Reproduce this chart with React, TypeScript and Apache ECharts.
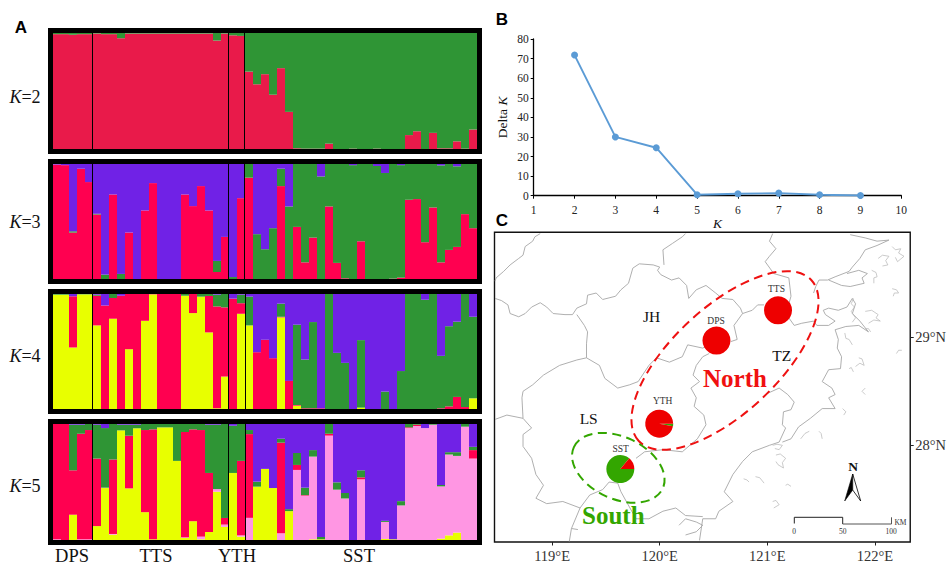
import React, { useEffect, useRef } from "react";
import * as echarts from "echarts";

// ---- Structure plots: cumulative tops (%) of the stacked clusters per individual ----
const individuals = Array.from({ length: 53 }, (_, i) => String(i + 1));
const populations = ["DPS", "TTS", "YTH", "SST"];

const k2RedTop = [99,99,98.5,99,99, 99.5,99,99,95.5,99.5,99.5,99.5,99.5,99.5,99.5,99.5,99.5,99.5,99.5,99.5,93.5,99.5, 98,97.5,
  66.7,55.8,64.5,46.8,69.7,32,0.6,0.3,0.3,0.3,4.6,0,0,0.3,0,0,0.3,0,0,0,12,15.3,0,13.9,0.6,0.6,6.6,0.3,16.8];

const k3RedTop = [99.5,99,40.4,95.9,84.3, 56.1,0,73.5,0,40.4,0,59.6,83.4,0,0,0,73.5,63.4,80.8,59.6,6.1,36.6, 0,70.3,
  88.1,0,0,0,80.8,0,45.3,14.5,36,0,63.1,14,0.6,0,32.8,0,0,0,0.3,1.2,68.9,69.5,32,62.2,14.5,25.3,27.9,56.4,44.2];
const k3GreenTop = [99.5,99,41.5,95.9,84.3, 56.7,3.8,73.5,4.4,40.4,0,59.6,83.4,0,0,0,73.5,63.4,80.8,59.6,15.7,36.6, 1.7,70.3,
  100,39,25.9,44.2,95.9,63.1,100,100,100,89.2,100,100,100,99,100,100,98.3,92.2,100,99,100,100,100,100,98.8,100,98,100,100];

const k4YellowTop = [99.4,99.4,53.5,99.7,99.7, 72.7,0,78.5,0,52,0,76.7,99.7,0,0,0,98.5,83.4,97.7,66.6,0.6,28.2, 0,82.8,
  72.7,0,0,0,79.7,0,2.9,0,0,0,0,0,0,0,1.2,0,0,0,0,0,0,0,0,0,0,0,0,0,9.3];
const k4RedTop = [99.4,99.4,98,99.7,99.7, 98.5,90,96.5,98.5,100,100,100,100,100,100,100,98.5,100,97.7,98.3,89.2,88.4, 96,92,
  72.7,49.4,60.2,44.2,80.2,24.4,3.5,0.6,0.6,0.6,0,0,0,0,1.2,0,0,0,0,0,0,0,0,0,0.6,2.3,10.5,1.7,9.3];
const k4GreenTop = [100,100,98,100,100, 99.4,90,100,98.5,100,100,100,100,100,100,100,100,100,100,100,99.4,100, 96,99.4,
  97.7,49.4,60.2,44.2,91.6,24.4,73.3,43,75.6,0.6,100,48.8,40.1,0,59.9,0,0,15.1,0,33,100,100,95,100,46.2,72,75.9,100,80.2];

const k5YellowTop = [0,0,21.8,0,0, 12,44.8,4.6,94.5,44.5,96.3,24,0.6,97.1,97.1,68.2,1.7,16.2,0.6,6.9,41.6,11.3, 57.8,2.9,
  0,46,61.3,44.8,0,24.9,0,0,0.6,0.6,0,0,0,0,0,0,0,0.9,0.6,0,0,0,0,0,1.2,4,6.4,0,0];
const k5PinkTop = [0.6,0,21.8,0.6,0.6, 12,45.1,5.2,94.5,44.5,96.3,24,0.6,97.1,97.1,68.2,2.3,16.2,2.9,6.9,43.9,13.3, 57.8,4,
  19.1,46,61.3,44.8,5.8,24.9,60.4,38.2,71.9,0.6,90,43.4,35.8,0,52.3,0,0,15.6,0.6,29.8,96.5,98.3,96.5,99.4,46.2,73.7,72.5,97.7,70.2];
const k5RedTop = [100,100,60.1,91.6,94.8, 70.2,45.1,69.4,94.5,89.9,96.3,94.8,95.4,97.1,97.1,68.2,93.1,95.4,94.8,57.8,43.9,19, 57.8,68.2,
  91.3,46,61.3,44.8,83.9,24.9,64.7,38.7,71.9,0.6,91.6,43.4,35.8,0,54,0,0,15.6,0.6,29.8,97.1,99.4,96.5,99.4,46.2,73.7,72.5,97.7,77.5];
const k5GreenTop = [100,100,99.4,99.4,100, 99.4,96.5,100,99.4,99.4,99.4,100,100,100,100,100,100,100,100,99.4,99.4,100, 98.5,100,
  94.8,50.3,61.3,44.8,87.3,26.6,75,45.1,77.5,2.6,100,49.7,40.5,0,60.1,0,0,16.5,0.6,33.5,100,100,96.5,100,47.4,75.7,75.7,100,80.3];

// ---- Delta K ----
const kValues = [2, 3, 4, 5, 6, 7, 8, 9];
const deltaK = [71.8, 30, 24.5, 0.5, 1, 1.3, 0.5, 0.1];

// ---- Map: sampling sites ----
const siteNames = ["TTS", "DPS", "YTH", "SST"];
const siteLon = [121.09, 120.52, 119.99, 119.63];
const siteLat = [29.25, 28.97, 28.2, 27.78];
const siteGreenShare = [0, 0, 3, 86];
const siteRedShare = [100, 100, 97, 14];

// ---- Map: administrative boundaries and coast, [lon, lat] ----
const boundaries: number[][][] = [
  [[118.89,29.96],[118.84,29.93],[118.82,29.89],[118.75,29.84],[118.73,29.76],[118.69,29.73],[118.61,29.67],[118.55,29.61],[118.48,29.55],[118.47,29.52]],
  [[118.47,29.36],[118.53,29.34],[118.59,29.3],[118.61,29.22],[118.69,29.19],[118.75,29.22],[118.81,29.28],[118.89,29.32],[118.95,29.28],[119.01,29.22],[119.12,29.21],[119.19,29.21],[119.23,29.27],[119.32,29.31],[119.33,29.39],[119.41,29.41],[119.47,29.35],[119.59,29.38],[119.64,29.44],[119.71,29.5],[119.75,29.64],[119.81,29.68],[119.94,29.67],[120,29.65],[119.98,29.62],[120.01,29.58],[120.11,29.53],[120.18,29.55],[120.25,29.48],[120.27,29.36],[120.34,29.44],[120.43,29.48],[120.52,29.41],[120.58,29.36],[120.68,29.35],[120.75,29.27],[120.77,29.22],[120.86,29.25],[120.91,29.3],[120.97,29.3]],
  [[121.2,29.18],[121.25,29.11],[121.32,29.13],[121.43,29.15]],
  [[120.04,29.67],[120.03,29.81],[120.12,29.87],[120.21,29.93],[120.24,29.96]],
  [[121.05,29.96],[121.02,29.89],[121.08,29.82],[121.02,29.75],[120.98,29.7],[121.06,29.59],[121.2,29.55],[121.22,29.38],[121.2,29.31]],
  [[119.23,29.21],[119.3,29.11],[119.33,29.05],[119.32,28.94],[119.32,28.81]],
  [[119.32,28.81],[119.23,28.79],[119.07,28.74],[118.92,28.65],[118.82,28.56],[118.73,28.5],[118.72,28.44],[118.73,28.25],[118.81,28.16],[118.73,28.1],[118.73,27.99],[118.81,27.88],[118.85,27.73],[118.92,27.63],[118.85,27.51],[118.95,27.46],[119.1,27.48],[119.26,27.42],[119.35,27.54],[119.47,27.59],[119.53,27.66]],
  [[118.47,28.24],[118.58,28.28],[118.73,28.25]],
  [[119.32,28.81],[119.44,28.74],[119.49,28.62],[119.61,28.53],[119.72,28.56],[119.8,28.59],[119.9,28.74],[119.97,28.81],[120.09,28.77],[120.21,28.82],[120.26,28.93],[120.4,28.9],[120.52,28.96]],
  [[120.66,28.96],[120.72,28.98],[120.69,29.11],[120.77,29.22]],
  [[120.46,28.85],[120.4,28.82],[120.34,28.74],[120.31,28.65],[120.37,28.59],[120.29,28.53],[120.34,28.44],[120.32,28.36],[120.41,28.28],[120.43,28.19],[120.35,28.06],[120.21,27.94],[120.03,27.96],[119.86,27.94],[119.78,27.88]],
  [[119.53,27.66],[119.61,27.65],[119.64,27.57],[119.69,27.48]],
  [[119.69,27.48],[119.78,27.32],[119.9,27.32],[120.03,27.39],[120.15,27.42],[120.24,27.35],[120.4,27.34]],
  [[119.26,27.42],[119.18,27.23],[119.16,27.11]],
  [[119.18,27.23],[119.24,27.22]],
  [[121,28.48],[121.11,28.53],[121.19,28.47]],
];
const coast: number[][][] = [
  [[121.77,29.95],[121.91,29.92],[122.02,29.89],[122.13,29.9],[122.02,29.85],[121.91,29.81],[121.86,29.73],[121.79,29.65],[121.76,29.61],[121.63,29.56],[121.56,29.53],[121.48,29.53],[121.45,29.47],[121.43,29.41]],
  [[121.74,29.59],[121.85,29.62],[121.93,29.59],[121.88,29.55],[121.9,29.5],[121.77,29.47],[121.69,29.48],[121.57,29.53]],
  [[121.43,29.15],[121.46,29.11],[121.57,29.11],[121.63,29.15],[121.54,29.21],[121.52,29.25],[121.57,29.27],[121.66,29.25],[121.74,29.28],[121.79,29.36],[121.82,29.31],[121.79,29.22],[121.86,29.15],[121.94,29.05],[121.85,29.11],[121.73,29.1],[121.63,29.07],[121.66,28.98],[121.65,28.9],[121.69,28.82],[121.68,28.71],[121.57,28.7],[121.51,28.59],[121.6,28.53],[121.63,28.47],[121.57,28.44],[121.63,28.34],[121.51,28.34],[121.4,28.25],[121.29,28.17],[121.22,28.06],[121.14,28.03]],
  [[121.19,28.47],[121.25,28.4],[121.22,28.33],[121.15,28.31],[121.14,28.19],[121.17,28.16],[121.11,28.03],[121.02,28],[120.86,27.94],[120.77,27.85],[120.68,27.73],[120.6,27.57],[120.68,27.48],[120.55,27.39],[120.52,27.32],[120.4,27.32],[120.37,27.12]],
  [[120.18,27.26],[120.24,27.32],[120.34,27.29],[120.4,27.26],[120.34,27.2],[120.24,27.17]],
];
const islands: number[][][] = [
  [[122.16,29.84],[122.19,29.81],[122.24,29.82],[122.22,29.78],[122.27,29.75],[122.21,29.7],[122.19,29.74]],
  [[122.03,29.73],[122.07,29.76],[122.13,29.75],[122.1,29.71],[122.12,29.67],[122.07,29.66]],
  [[122.16,29.45],[122.2,29.44],[122.22,29.41],[122.18,29.41],[122.17,29.38]],
  [[121.97,29.62],[122.01,29.6],[122.02,29.56],[121.99,29.55],[121.99,29.5]],
  [[121.8,29.36],[121.78,29.31],[121.81,29.28],[121.78,29.24],[121.82,29.18],[121.79,29.14]],
  [[121.91,29.24],[121.97,29.25],[122.03,29.21],[122.01,29.18],[122.05,29.15],[121.99,29.16],[121.94,29.13]],
  [[121.91,29.08],[121.94,29.08],[121.96,29.05]],
  [[121.72,29.04],[121.73,28.99],[121.76,28.98],[121.79,28.93]],
  [[121.85,28.81],[121.88,28.8],[121.9,28.74],[121.86,28.76],[121.82,28.73]],
  [[121.76,28.71],[121.78,28.72],[121.8,28.68]],
  [[122.25,28.88],[122.22,28.88],[122.2,28.85]],
  [[121.91,28.53],[121.88,28.5],[121.91,28.47]],
  [[121.7,28.34],[121.73,28.31],[121.71,28.28]],
  [[121.48,28.13],[121.5,28.11],[121.51,28.06]],
  [[121.05,28],[121.09,28.01],[121.14,28],[121.11,27.96],[121.07,27.97]],
  [[121.08,27.91],[121.12,27.92],[121.17,27.88],[121.14,27.84],[121.15,27.79],[121.1,27.82],[121.08,27.85]],
  [[120.78,27.69],[120.81,27.68],[120.83,27.66]],
  [[120.89,27.71],[120.93,27.7],[120.97,27.65]],
  [[121.17,27.63],[121.19,27.64],[121.22,27.62]],
  [[121.05,27.48],[121.08,27.49],[121.11,27.45],[121.06,27.42]],
  [[121.39,28.13],[121.35,28.11],[121.31,28.06]],
];
const lonTicks = [119, 120, 121, 122];
const latTicks = [28, 29];

// ---- Colours ----
const RED2 = "#E91A4A";
const RED = "#FF0050";
const GREEN = "#2F9535";
const PURPLE = "#7022E6";
const YELLOW = "#E8FF00";
const PINK = "#FF96E3";
const SERIF = "'Liberation Serif', serif";

function stackFromTops(tops: number[][]): number[][] {
  const out: number[][] = [];
  const running = individuals.map(() => 0);
  tops.forEach((t) => {
    out.push(t.map((v, i) => {
      const s = Math.max(0, v - running[i]);
      running[i] = Math.max(running[i], v);
      return +s.toFixed(2);
    }));
  });
  out.push(running.map((v) => +(100 - v).toFixed(2)));
  return out;
}

const panels = [
  { label: "2", top: 33, bottom: 149, tops: [k2RedTop], colors: [RED2, GREEN], labelY: 96.6 },
  { label: "3", top: 164, bottom: 279, tops: [k3RedTop, k3GreenTop], colors: [RED, GREEN, PURPLE], labelY: 221.7 },
  { label: "4", top: 294, bottom: 409, tops: [k4YellowTop, k4RedTop, k4GreenTop], colors: [YELLOW, RED, GREEN, PURPLE], labelY: 355.7 },
  { label: "5", top: 424, bottom: 540, tops: [k5YellowTop, k5PinkTop, k5RedTop, k5GreenTop], colors: [YELLOW, PINK, RED, GREEN, PURPLE], labelY: 485.7 },
];

const lonPx = (lon: number) => 552.3 + (lon - 119) * 108;
const latPx = (lat: number) => 445.3 - (lat - 28) * 108;

function buildOption() {
  const grid: any[] = [];
  const xAxis: any[] = [];
  const yAxis: any[] = [];
  const series: any[] = [];
  const graphic: any[] = [];
  const text = (x: number, y: number, t: string, size: number, extra: any = {}, rich?: any) => ({
    type: "text", x, y, z: 20,
    style: { text: t, fontFamily: SERIF, fontSize: size, fill: "#111", align: "center", verticalAlign: "middle", rich, ...extra },
  });

  panels.forEach((p, pi) => {
    grid.push({ left: 53, top: p.top, width: 424, height: p.bottom - p.top });
    xAxis.push({ type: "category", gridIndex: pi, data: individuals, show: false });
    yAxis.push({ type: "value", gridIndex: pi, min: 0, max: 100, show: false });
    stackFromTops(p.tops).forEach((values, si) => {
      series.push({
        type: "bar", xAxisIndex: pi, yAxisIndex: pi, stack: "k" + p.label, data: values,
        barCategoryGap: 0, silent: true,
        itemStyle: { color: p.colors[si] },
      });
    });
    graphic.push({
      type: "rect", z: 15,
      shape: { x: 50.5, y: p.top - 2.5, width: 429, height: p.bottom - p.top + 5 },
      style: { fill: "none", stroke: "#000", lineWidth: 5 },
    });
    [92.5, 228.5, pi >= 2 ? 245.5 : 244.5].forEach((x) => {
      graphic.push({
        type: "line", z: 16,
        shape: { x1: x, y1: p.top, x2: x, y2: p.bottom },
        style: { stroke: "#000", lineWidth: 1 },
      });
    });
    graphic.push(text(25, p.labelY, "{i|K}{n|=" + p.label + "}", 18, {}, {
      i: { fontFamily: SERIF, fontSize: 18, fontStyle: "italic", fill: "#111" },
      n: { fontFamily: SERIF, fontSize: 18, fill: "#111" },
    }));
  });

  // Panel B
  grid.push({ left: 533.7, top: 39, width: 367.6, height: 156.7 });
  xAxis.push({
    type: "value", gridIndex: 4, min: 1, max: 10, interval: 1,
    name: "{k|K}", nameLocation: "middle", nameGap: 17,
    nameTextStyle: { rich: { k: { fontFamily: SERIF, fontStyle: "italic", fontSize: 13.5, color: "#111" } } },
    axisLine: { lineStyle: { color: "#000", width: 1.3 } },
    axisTick: { inside: false, length: 3, lineStyle: { color: "#000", width: 1 } },
    axisLabel: { fontFamily: SERIF, fontSize: 11.5, color: "#222", margin: 8 },
    splitLine: { show: false },
  });
  yAxis.push({
    type: "value", gridIndex: 4, min: 0, max: 80, interval: 10,
    name: "{a|Delta }{k|K}", nameLocation: "middle", nameGap: 24, nameRotate: 90,
    nameTextStyle: { rich: {
      a: { fontFamily: SERIF, fontSize: 13.5, color: "#111" },
      k: { fontFamily: SERIF, fontStyle: "italic", fontSize: 13.5, color: "#111" },
    } },
    axisLine: { show: true, lineStyle: { color: "#000", width: 1.3 } },
    axisTick: { show: true, length: 3, lineStyle: { color: "#000", width: 1 } },
    axisLabel: { fontFamily: SERIF, fontSize: 11.5, color: "#222", margin: 5 },
    splitLine: { show: false },
  });
  series.push({
    type: "line", xAxisIndex: 4, yAxisIndex: 4, data: kValues.map((k, i) => [k, deltaK[i]]),
    symbol: "circle", symbolSize: 7, silent: true,
    lineStyle: { color: "#5B9BD5", width: 1.9 }, itemStyle: { color: "#5B9BD5" },
  });

  // Panel C map
  grid.push({ left: 494.5, top: 232.3, width: 417.2, height: 309.7, show: true, borderColor: "#111", borderWidth: 1.4 });
  xAxis.push({
    type: "value", gridIndex: 5, min: 118.465, max: 122.328,
    axisLine: { show: false },
    axisTick: { show: true, length: 3.5, customValues: lonTicks, lineStyle: { color: "#222", width: 1 } },
    axisLabel: { customValues: lonTicks, formatter: (v: number) => v + "°E", fontFamily: SERIF, fontSize: 14.5, color: "#333", margin: 6 },
    splitLine: { show: false },
  });
  yAxis.push({
    type: "value", gridIndex: 5, position: "right", min: 27.105, max: 29.972,
    axisLine: { show: false },
    axisTick: { show: true, length: 3.5, customValues: latTicks, lineStyle: { color: "#222", width: 1 } },
    axisLabel: { customValues: latTicks, formatter: (v: number) => v + "°N", fontFamily: SERIF, fontSize: 14.5, color: "#333", margin: 5 },
    splitLine: { show: false },
  });
  const mapLine = (pts: number[][], color: string, width: number) => ({
    type: "line", xAxisIndex: 5, yAxisIndex: 5, data: pts, symbol: "none", silent: true, clip: true,
    lineStyle: { color, width }, z: 3,
  });
  boundaries.forEach((b) => series.push(mapLine(b, "#A6A6A6", 0.9)));
  coast.forEach((b) => series.push(mapLine(b, "#A6A6A6", 0.9)));
  islands.forEach((b) => series.push(mapLine(b, "#B4B4B4", 0.7)));

  siteNames.forEach((name, i) => {
    series.push({
      type: "pie", name, center: [lonPx(siteLon[i]), latPx(siteLat[i])], radius: 14,
      startAngle: 0, silent: true, z: 5, label: { show: false }, labelLine: { show: false },
      data: [
        { value: siteGreenShare[i], name: "South", itemStyle: { color: "#33A600" } },
        { value: siteRedShare[i], name: "North", itemStyle: { color: "#EE0000" } },
      ],
    });
  });

  // Panel letters
  const sans = { fontFamily: "'Liberation Sans', sans-serif", fontWeight: "bold", fill: "#000" };
  graphic.push(text(21, 27, "A", 17, sans), text(502, 19.5, "B", 17, sans), text(502, 220, "C", 17, sans));

  // Population labels
  const popX = [72, 156, 237, 359];
  populations.forEach((n, i) => graphic.push(text(popX[i], 555.5, n, 18.5)));

  // Map labels
  const siteLabelY = [289, 320.7, 401, 449];
  const siteLabelX = [776.5, 716, 662.7, 620.7];
  siteNames.forEach((n, i) => graphic.push(text(siteLabelX[i], siteLabelY[i], n, 9.5, { fill: "#333" })));
  graphic.push(text(651.7, 316.7, "JH", 15.5), text(781.7, 355, "TZ", 15.5), text(588.7, 418.3, "LS", 15.5));
  graphic.push(
    text(735, 378.3, "North", 25, { fill: "#F01010", fontWeight: "bold" }),
    text(613.3, 515, "South", 25, { fill: "#33A600", fontWeight: "bold" }),
  );

  // Cluster ellipses
  graphic.push({
    type: "ellipse", z: 12, x: 725, y: 360.5, rotation: (43 * Math.PI) / 180,
    shape: { cx: 0, cy: 0, rx: 118, ry: 53 },
    style: { fill: "none", stroke: "#EE1111", lineWidth: 2, lineDash: [9, 5.5] },
  });
  graphic.push({
    type: "ellipse", z: 12, x: 618.3, y: 467.8, rotation: (-25 * Math.PI) / 180,
    shape: { cx: 0, cy: 0, rx: 49, ry: 31 },
    style: { fill: "none", stroke: "#33A600", lineWidth: 2, lineDash: [9, 5.5] },
  });

  // North arrow
  graphic.push(text(853, 466.7, "N", 13.5, { fontWeight: "bold" }));
  graphic.push({ type: "polygon", z: 13, shape: { points: [[852.7, 474], [844.7, 501], [852.7, 490]] }, style: { fill: "#000", stroke: "#000", lineWidth: 0.6 } });
  graphic.push({ type: "polygon", z: 13, shape: { points: [[852.7, 474], [860.7, 501], [852.7, 490]] }, style: { fill: "#fff", stroke: "#000", lineWidth: 0.8 } });

  // Scale bar
  graphic.push({ type: "polyline", z: 13, shape: { points: [[794.3, 523.5], [794.3, 517.3], [842.7, 517.3], [842.7, 524]] }, style: { fill: "none", stroke: "#222", lineWidth: 1 } });
  graphic.push({ type: "polyline", z: 13, shape: { points: [[842.7, 524], [891.5, 524], [891.5, 517.3]] }, style: { fill: "none", stroke: "#555", lineWidth: 1 } });
  graphic.push(text(794, 531.2, "0", 7.5, { fill: "#333" }), text(842.7, 531.2, "50", 7.5, { fill: "#333" }), text(891, 531.2, "100", 7.5, { fill: "#333" }), text(900.5, 522.5, "KM", 7.5, { fill: "#333" }));

  return { animation: false, backgroundColor: "#fff", grid, xAxis, yAxis, series, graphic };
}

export default function App() {
  const ref = useRef<HTMLDivElement>(null);
  useEffect(() => {
    document.body.style.margin = "0";
    const chart = echarts.init(ref.current!, undefined, { renderer: "svg" });
    chart.setOption(buildOption() as any);
    return () => chart.dispose();
  }, []);
  return <div ref={ref} style={{ position: "absolute", left: 0, top: 0, width: 949, height: 566 }} />;
}
